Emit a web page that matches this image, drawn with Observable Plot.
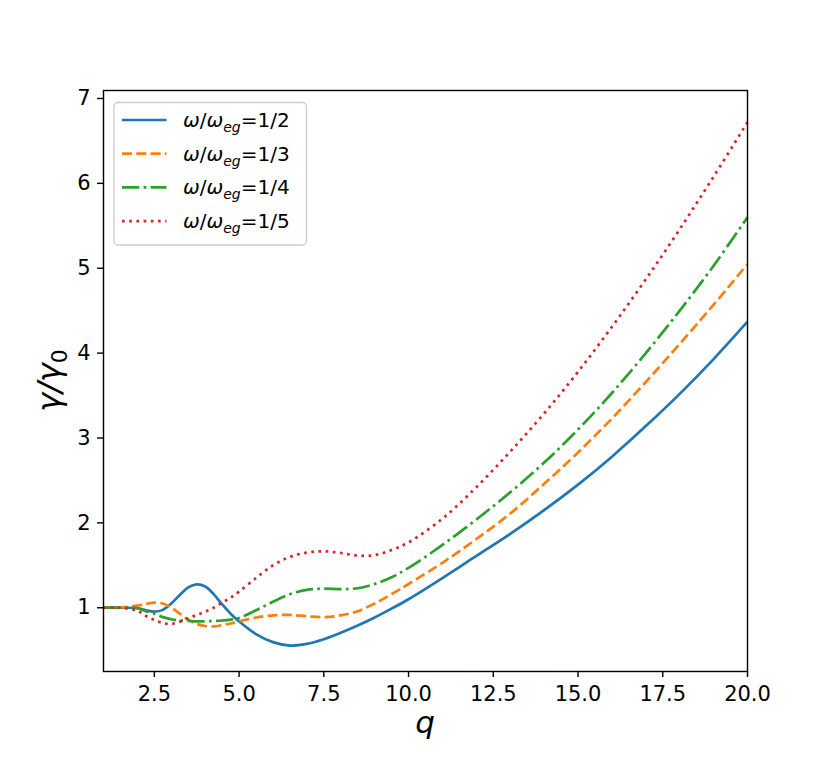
<!DOCTYPE html>
<html>
<head>
<meta charset="utf-8">
<script src="https://cdn.jsdelivr.net/npm/d3@7"></script>
<script src="https://cdn.jsdelivr.net/npm/@observablehq/plot@0.6"></script>
<style>
body { margin: 0; background: #fff; }
#chart svg { font-family: "DejaVu Sans", sans-serif; }
#chart g[aria-label="x-axis tick label"], #chart g[aria-label="y-axis tick label"] { font-size: 21px !important; fill: #000; }
#chart g[aria-label="x-axis tick label"] text, #chart g[aria-label="y-axis tick label"] text { font-size: 21px !important; }
</style>
</head>
<body>
<div id="chart"></div>
<script>
// q values where the curves were sampled
const q = [1, 1.5, 2, 2.25, 2.5, 2.75, 3, 3.25, 3.5, 3.75, 4, 4.25, 4.5, 4.75, 5, 5.5, 6, 6.5, 7, 7.5, 8, 8.5, 9, 9.5, 10, 11, 12, 13, 14, 15, 16, 17, 18, 19, 20];

const half = [1.0, 1.0, 0.995, 0.97, 0.955, 0.975, 1.05, 1.15, 1.24, 1.275, 1.25, 1.16, 1.04, 0.93, 0.84, 0.69, 0.595, 0.555, 0.575, 0.63, 0.705, 0.79, 0.885, 0.99, 1.10, 1.35, 1.61, 1.87, 2.15, 2.45, 2.78, 3.14, 3.52, 3.93, 4.37];

const third = [1.0, 1.005, 1.025, 1.045, 1.06, 1.05, 1.0, 0.93, 0.86, 0.81, 0.785, 0.78, 0.795, 0.815, 0.84, 0.885, 0.91, 0.915, 0.9, 0.89, 0.91, 0.96, 1.05, 1.16, 1.28, 1.53, 1.81, 2.11, 2.46, 2.83, 3.23, 3.66, 4.11, 4.57, 5.05];

const quarter = [1.0, 1.0, 0.995, 0.96, 0.93, 0.89, 0.865, 0.85, 0.845, 0.84, 0.84, 0.845, 0.85, 0.86, 0.88, 0.97, 1.07, 1.16, 1.21, 1.225, 1.22, 1.23, 1.28, 1.36, 1.47, 1.74, 2.04, 2.36, 2.71, 3.10, 3.53, 4.00, 4.50, 5.03, 5.60];

const fifth = [1.0, 1.0, 0.965, 0.905, 0.855, 0.82, 0.81, 0.835, 0.875, 0.915, 0.955, 1.0, 1.06, 1.12, 1.19, 1.35, 1.50, 1.60, 1.65, 1.665, 1.645, 1.615, 1.62, 1.68, 1.77, 2.05, 2.42, 2.84, 3.29, 3.78, 4.31, 4.87, 5.46, 6.08, 6.72];

const seriesNames = ["1/2", "1/3", "1/4", "1/5"];
const seriesValues = [half, third, quarter, fifth];
const seriesColors = ["#1f77b4", "#ff7f0e", "#2ca02c", "#d62728"];
const seriesDash = [null, "10,4.3", "17.3,4.3,2.7,4.3", "2.7,4.5"];

const xTicks = [2.5, 5, 7.5, 10, 12.5, 15, 17.5, 20];
const yTicks = [1, 2, 3, 4, 5, 6, 7];

const W = 830, H = 767;
const mL = 103, mR = 83, mT = 90, mB = 96;

const lineMarks = seriesNames.map((name, i) =>
  Plot.line(q.map((x, j) => ({q: x, v: seriesValues[i][j]})), {
    x: "q", y: "v", stroke: seriesColors[i], strokeWidth: 2.7,
    strokeDasharray: seriesDash[i], strokeLinecap: "butt",
    curve: "catmull-rom"
  })
);

const chart = Plot.plot({
  width: W, height: H,
  marginLeft: mL, marginRight: mR, marginTop: mT, marginBottom: mB,
  style: {fontFamily: "DejaVu Sans, sans-serif", color: "#000", background: "#fff"},
  x: {domain: [1, 20]},
  y: {domain: [0.249, 7.094]},
  marks: [
    ...lineMarks,
    Plot.frame({stroke: "#000", strokeWidth: 1.4}),
    Plot.axisX({ticks: xTicks, tickFormat: d => d.toFixed(1), tickSize: 6, tickPadding: 9,
      fontSize: 21, label: null, stroke: "#000", strokeWidth: 1.4}),
    Plot.axisY({ticks: yTicks, tickFormat: d => String(d), tickSize: 6, tickPadding: 7,
      fontSize: 21, label: null, stroke: "#000", strokeWidth: 1.4})
  ]
});

document.getElementById("chart").appendChild(chart);

const svg = d3.select(chart);

// axis labels
svg.append("text")
  .attr("x", mL + (W - mL - mR) / 2).attr("y", 733)
  .attr("text-anchor", "middle")
  .attr("font-size", 31).attr("font-style", "italic")
  .attr("font-family", "DejaVu Sans, sans-serif")
  .attr("fill", "#000")
  .text("q");

const yl = svg.append("text")
  .attr("transform", `translate(60,${mT + (H - mT - mB) / 2}) rotate(-90)`)
  .attr("text-anchor", "middle")
  .attr("font-size", 32)
  .attr("font-family", "DejaVu Sans, sans-serif")
  .attr("fill", "#000");
yl.append("tspan").attr("font-style", "italic").text("γ/γ");
yl.append("tspan").attr("font-size", 22).attr("dy", 7).text("0");

// legend
const lg = svg.append("g").attr("text-anchor", "start");
lg.append("rect")
  .attr("x", 114).attr("y", 102.5).attr("width", 192.5).attr("height", 142.5)
  .attr("rx", 4).attr("fill", "#fff").attr("fill-opacity", 0.8)
  .attr("stroke", "#cccccc").attr("stroke-width", 1.3);
seriesNames.forEach((name, i) => {
  const yc = 120 + i * 33.7;
  lg.append("line")
    .attr("x1", 122).attr("x2", 166.5).attr("y1", yc).attr("y2", yc)
    .attr("stroke", seriesColors[i]).attr("stroke-width", 2.7)
    .attr("stroke-dasharray", seriesDash[i]);
  const t = lg.append("text")
    .attr("x", 183).attr("y", yc + 7)
    .attr("text-anchor", "start")
    .attr("font-size", 20).attr("font-family", "DejaVu Sans, sans-serif")
    .attr("fill", "#000");
  t.append("tspan").attr("font-style", "italic").text("ω");
  t.append("tspan").text("/");
  t.append("tspan").attr("font-style", "italic").text("ω");
  t.append("tspan").attr("font-style", "italic").attr("font-size", 14).attr("dy", 5).text("eg");
  t.append("tspan").attr("dy", -5).text("=" + name);
});
</script>
</body>
</html>
